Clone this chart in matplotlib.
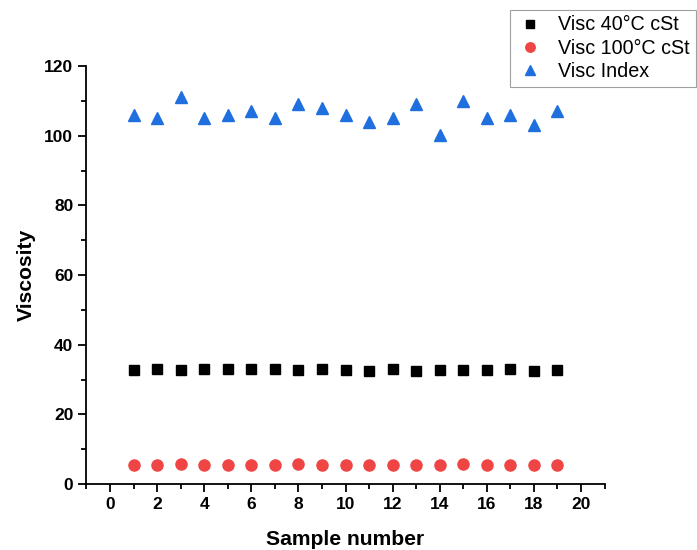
import matplotlib
matplotlib.use("Agg")
import matplotlib.pyplot as plt
from matplotlib.ticker import MultipleLocator

plt.rcParams['font.family'] = ['Liberation Sans', 'DejaVu Sans']

samples = list(range(1, 20))
visc40 = [32.6, 32.9, 32.6, 33.0, 32.9, 32.9, 33.0, 32.6, 32.9, 32.7,
          32.3, 33.0, 32.4, 32.6, 32.6, 32.6, 33.0, 32.4, 32.6]
visc100 = [5.5, 5.5, 5.6, 5.5, 5.5, 5.5, 5.5, 5.6, 5.5, 5.5,
           5.5, 5.5, 5.5, 5.5, 5.6, 5.5, 5.5, 5.5, 5.5]
visc_index = [106, 105, 111, 105, 106, 107, 105, 109, 108, 106,
              104, 105, 109, 100.3, 110, 105, 106, 103, 107]

fig = plt.figure(figsize=(6.97, 5.5), dpi=100)
ax = fig.add_axes([0.1241, 0.12, 0.7432, 0.76])

ax.plot(samples, visc40, linestyle='none', marker='s', markersize=7.5,
        color='black', label='Visc 40°C cSt')
ax.plot(samples, visc100, linestyle='none', marker='o', markersize=8,
        color='#EF4545', label='Visc 100°C cSt')
ax.plot(samples, visc_index, linestyle='none', marker='^', markersize=9,
        color='#1F6FDF', label='Visc Index')

ax.set_xlim(-1, 21)
ax.set_ylim(0, 120)
ax.xaxis.set_major_locator(MultipleLocator(2))
ax.xaxis.set_minor_locator(MultipleLocator(1))
ax.yaxis.set_major_locator(MultipleLocator(20))
ax.yaxis.set_minor_locator(MultipleLocator(10))

for s in ['top', 'right']:
    ax.spines[s].set_visible(False)
for s in ['left', 'bottom']:
    ax.spines[s].set_linewidth(1.3)
ax.tick_params(which='major', direction='out', length=6, width=1.3, labelsize=12.5)
ax.tick_params(which='minor', direction='out', length=3.5, width=1.3)
for lab in ax.get_xticklabels() + ax.get_yticklabels():
    lab.set_fontweight('bold')

ax.set_xlabel('Sample number', fontsize=15.2, fontweight='bold', labelpad=13)
ax.set_ylabel('Viscosity', fontsize=15.2, fontweight='bold', labelpad=6)

leg = fig.legend(loc='upper right', bbox_to_anchor=(0.998, 0.982), fontsize=14.2,
                 frameon=True, fancybox=False, borderpad=0.28, handletextpad=0.7,
                 labelspacing=0.22, handlelength=1.5, markerscale=0.85,
                 borderaxespad=0)
leg.get_frame().set_edgecolor('#888888')
leg.get_frame().set_linewidth(0.8)

fig.savefig('out.png', dpi=100)
